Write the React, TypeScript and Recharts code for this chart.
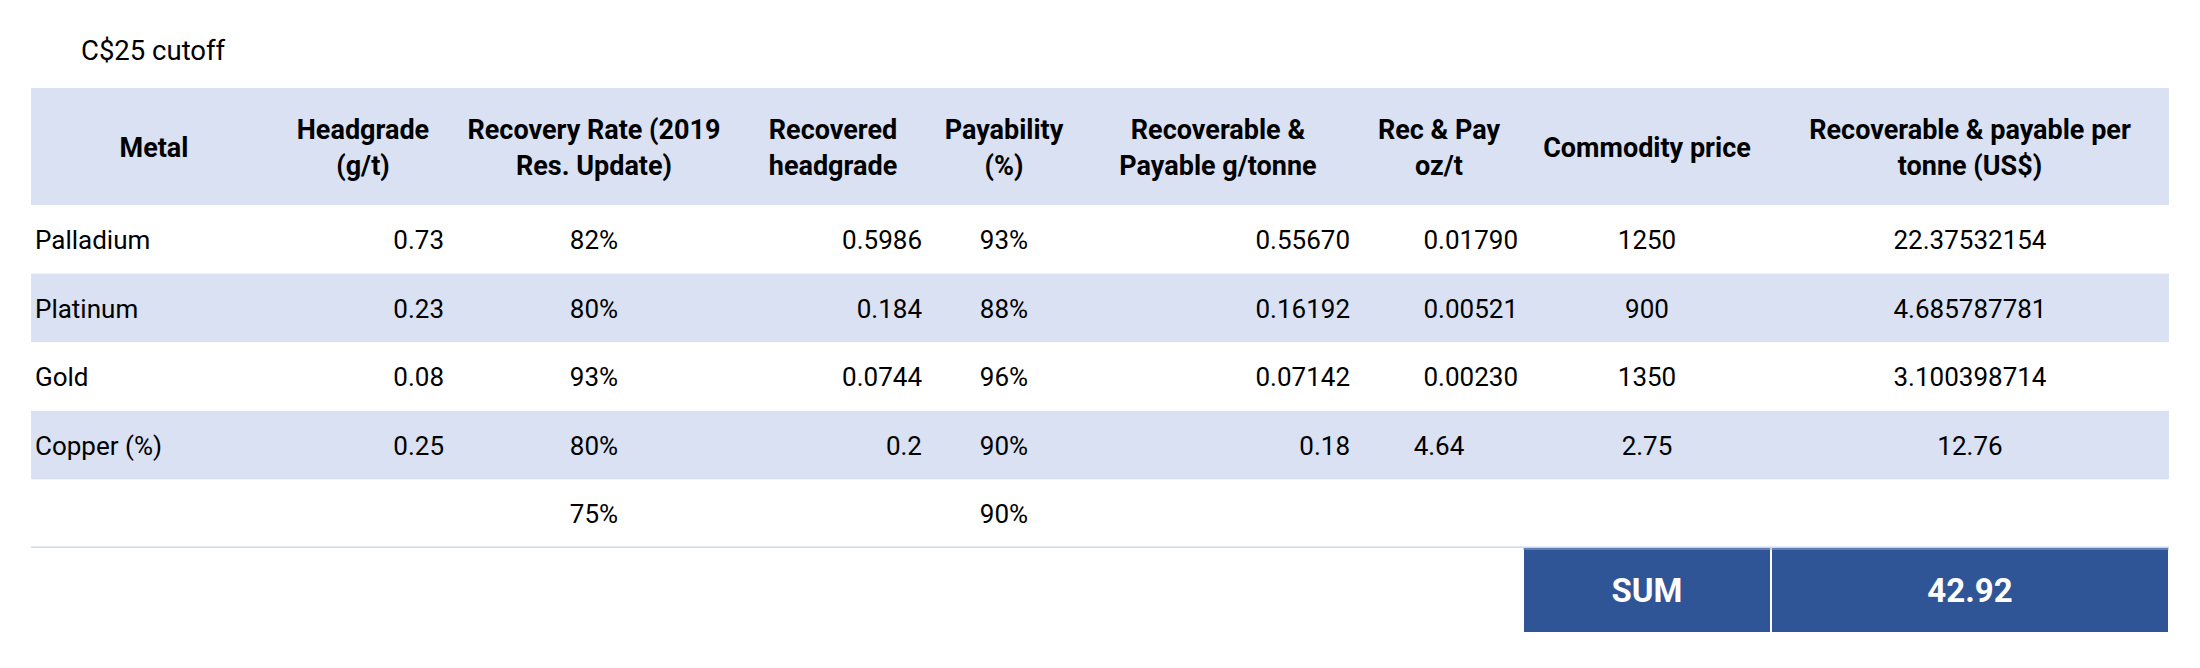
import { Bar, BarChart, XAxis, YAxis } from 'recharts';

// ---- table content ----
const TITLE = 'C$25 cutoff';

const HEADERS = [
  ['Metal'],
  ['Headgrade', '(g/t)'],
  ['Recovery Rate (2019', 'Res. Update)'],
  ['Recovered', 'headgrade'],
  ['Payability', '(%)'],
  ['Recoverable &', 'Payable g/tonne'],
  ['Rec & Pay', 'oz/t'],
  ['Commodity price'],
  ['Recoverable & payable per', 'tonne (US$)'],
];

const METALS = ['Palladium', 'Platinum', 'Gold', 'Copper (%)', ''];
const HEADGRADE = ['0.73', '0.23', '0.08', '0.25', ''];
const RECOVERY = ['82%', '80%', '93%', '80%', '75%'];
const RECOVERED = ['0.5986', '0.184', '0.0744', '0.2', ''];
const PAYABILITY = ['93%', '88%', '96%', '90%', '90%'];
const REC_PAY_G = ['0.55670', '0.16192', '0.07142', '0.18', ''];
const REC_PAY_OZ = ['0.01790', '0.00521', '0.00230', '4.64', ''];
const PRICE = ['1250', '900', '1350', '2.75', ''];
const PER_TONNE = ['22.37532154', '4.685787781', '3.100398714', '12.76', ''];

const SUM_LABEL = 'SUM';
const SUM_VALUE = '42.92';

// ---- layout / style ----
const COL_W = [246, 172, 290, 188, 154, 274, 168, 248, 398];
const TABLE_W = COL_W.reduce((s, w) => s + w, 0);
const ALIGN = ['left', 'right', 'center', 'right', 'center', 'right', 'right', 'center', 'center'];
const CENTER_CELLS = ['3-6']; // copper oz/t is centred in the sheet
const SHADE = '#d9e1f2';
const SUM_FILL = '#2f5597';
const FONT = 'Roboto, "Noto Sans", sans-serif';

const COLUMNS = [METALS, HEADGRADE, RECOVERY, RECOVERED, PAYABILITY, REC_PAY_G, REC_PAY_OZ, PRICE, PER_TONNE];

const widths = Object.fromEntries(COL_W.map((w, j) => [`c${j}`, w]));

const headerData = [{ row: 'h', ...widths }];

const bodyData = METALS.map((_, i) => ({
  row: i,
  ...widths,
  ...Object.fromEntries(COLUMNS.map((col, j) => [`t${j}`, col[i]])),
  shaded: i % 2 === 1,
  last: i === METALS.length - 1,
}));

const sumData = [
  {
    row: 's',
    blank: COL_W.slice(0, 7).reduce((s, w) => s + w, 0),
    label: COL_W[7],
    value: COL_W[8],
  },
];

const anchorFor = (align: string) => (align === 'left' ? 'start' : align === 'right' ? 'end' : 'middle');

const textX = (align: string, x: number, w: number) =>
  align === 'left' ? x + 4 : align === 'right' ? x + w - 5 : x + w / 2;

function headerShape(j: number) {
  return (p: any) => {
    const { x, y, width, height } = p;
    const lines = HEADERS[j];
    const cy = y + height / 2;
    return (
      <g>
        <rect x={x} y={y} width={width} height={height} fill={SHADE} />
        {lines.map((t, k) => (
          <text
            key={k}
            x={x + width / 2}
            y={cy + 10 + (k - (lines.length - 1) / 2) * 36}
            textAnchor="middle"
            fontFamily={FONT}
            fontWeight={700}
            fontSize={27}
            fill="#000"
          >
            {t}
          </text>
        ))}
      </g>
    );
  };
}

function bodyShape(j: number) {
  return (p: any) => {
    const { x, y, width, height, payload } = p;
    const align = CENTER_CELLS.includes(`${payload.row}-${j}`) ? 'center' : ALIGN[j];
    return (
      <g>
        <rect x={x} y={y} width={width} height={height} fill={payload.shaded ? SHADE : '#ffffff'} />
        {payload.last && (
          <line x1={x} x2={x + width} y1={y + height - 1} y2={y + height - 1} stroke="#cdd7ee" strokeWidth={2} />
        )}
        <text
          x={textX(align, x, width)}
          y={y + height / 2 + 9.5}
          textAnchor={anchorFor(align)}
          fontFamily={FONT}
          fontSize={26}
          fill="#000"
        >
          {payload[`t${j}`]}
        </text>
      </g>
    );
  };
}

function sumShape(text: string | null) {
  return (p: any) => {
    const { x, y, width, height } = p;
    if (text == null) return <g />;
    return (
      <g>
        <rect x={x + 1} y={y} width={width - 2} height={height} fill={SUM_FILL} />
        <line x1={x} x2={x + width} y1={y + 1} y2={y + 1} stroke="#8fa6d6" strokeWidth={1} />
        <text
          x={x + width / 2}
          y={y + height / 2 + 12}
          textAnchor="middle"
          fontFamily={FONT}
          fontWeight={700}
          fontSize={33}
          fill="#ffffff"
        >
          {text}
        </text>
      </g>
    );
  };
}

function Strip({
  data,
  height,
  keys,
  shapes,
}: {
  data: any[];
  height: number;
  keys: string[];
  shapes: ((p: any) => any)[];
}) {
  return (
    <BarChart
      width={TABLE_W}
      height={height}
      data={data}
      layout="vertical"
      margin={{ top: 0, right: 0, bottom: 0, left: 0 }}
      barCategoryGap={0}
      barGap={0}
    >
      <XAxis type="number" domain={[0, TABLE_W]} hide />
      <YAxis type="category" dataKey="row" hide />
      {keys.map((k, j) => (
        <Bar key={k} dataKey={k} stackId="t" shape={shapes[j]} isAnimationActive={false} />
      ))}
    </BarChart>
  );
}

export default function App() {
  const colKeys = COL_W.map((_, j) => `c${j}`);
  return (
    <div
      style={{
        position: 'absolute',
        left: 0,
        top: 0,
        width: 2200,
        height: 668,
        background: '#ffffff',
        fontFamily: FONT,
      }}
    >
      <div style={{ position: 'absolute', left: 81, top: 37, fontSize: 27.5, lineHeight: '27px', color: '#000' }}>
        {TITLE}
      </div>
      <div style={{ position: 'absolute', left: 31, top: 88 }}>
        <Strip data={headerData} height={117} keys={colKeys} shapes={COL_W.map((_, j) => headerShape(j))} />
      </div>
      <div style={{ position: 'absolute', left: 31, top: 205 }}>
        <Strip data={bodyData} height={343} keys={colKeys} shapes={COL_W.map((_, j) => bodyShape(j))} />
      </div>
      <div style={{ position: 'absolute', left: 31, top: 548 }}>
        <Strip
          data={sumData}
          height={84}
          keys={['blank', 'label', 'value']}
          shapes={[sumShape(null), sumShape(SUM_LABEL), sumShape(SUM_VALUE)]}
        />
      </div>
    </div>
  );
}
